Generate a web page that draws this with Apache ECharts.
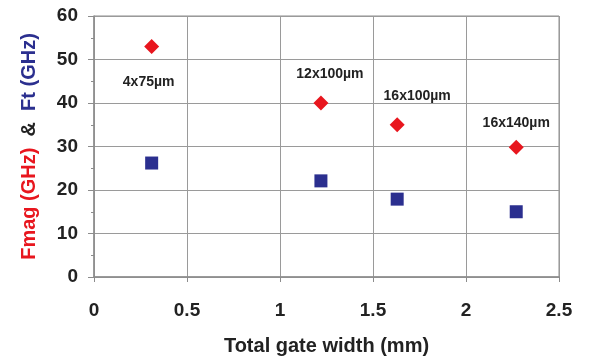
<!DOCTYPE html>
<html>
<head>
<meta charset="utf-8">
<script src="https://cdn.jsdelivr.net/npm/echarts@6/dist/echarts.min.js"></script>
<style>
  html, body { margin: 0; padding: 0; background: #fff; }
  #chart { width: 589px; height: 361px; }
</style>
</head>
<body>
<div id="chart"></div>
<script>
// Device geometry vs. frequency performance
const gateWidth = [0.31, 1.22, 1.63, 2.27];          // total gate width (mm)
const deviceNames = ['4x75µm', '12x100µm', '16x100µm', '16x140µm'];
const fmag = [53, 40, 35, 29.8];                      // Fmag (GHz)
const ft = [26.2, 22.1, 17.9, 15];                    // Ft (GHz)
const xTicks = [0, 0.5, 1, 1.5, 2, 2.5];
const yTicks = [0, 10, 20, 30, 40, 50, 60];

// label placement offsets for each device annotation
const labelOffsets = [[-3, 36], [9, -29], [20, -29], [0, -24]];

const chart = echarts.init(document.getElementById('chart'));
const bold = { fontFamily: 'Liberation Sans, Arial, sans-serif', fontWeight: 'bold' };

chart.setOption({
  animation: false,
  grid: {
    left: 94, right: 30, top: 16, bottom: 84,
    outerBoundsMode: 'none',
    containLabel: false,
    show: true, borderColor: '#8c8c8c', borderWidth: 1
  },
  xAxis: {
    type: 'value',
    min: xTicks[0], max: xTicks[xTicks.length - 1], interval: 0.5,
    name: 'Total gate width (mm)',
    nameLocation: 'middle', nameGap: 59,
    nameTextStyle: Object.assign({ fontSize: 20, color: '#222' }, bold),
    axisLine: { show: true, onZero: false, lineStyle: { color: '#8c8c8c', width: 1.5 } },
    axisTick: { show: true, inside: false, length: 5, lineStyle: { color: '#8c8c8c' } },
    axisLabel: Object.assign({ fontSize: 19, color: '#222', margin: 24,
      formatter: v => String(v) }, bold),
    splitLine: { show: true, lineStyle: { color: '#9a9a9a', width: 1 } }
  },
  yAxis: {
    type: 'value',
    min: yTicks[0], max: yTicks[yTicks.length - 1], interval: 10,
    name: '{r|Fmag (GHz)}{k|  &  }{b|Ft (GHz)}',
    nameLocation: 'middle', nameGap: 55, nameRotate: 90,
    nameTextStyle: {
      rich: {
        r: Object.assign({ fontSize: 20, color: '#e8161e' }, bold),
        k: Object.assign({ fontSize: 20, color: '#222' }, bold),
        b: Object.assign({ fontSize: 20, color: '#2b2f8f' }, bold)
      }
    },
    axisLine: { show: true, onZero: false, lineStyle: { color: '#8c8c8c', width: 1.5 } },
    axisTick: { show: true, inside: false, length: 6, lineStyle: { color: '#8c8c8c' } },
    minorTick: { show: true, splitNumber: 2, length: 3, lineStyle: { color: '#8c8c8c' } },
    axisLabel: Object.assign({ fontSize: 19, color: '#222', margin: 16 }, bold),
    splitLine: { show: true, lineStyle: { color: '#9a9a9a', width: 1 } }
  },
  series: [
    {
      name: 'Fmag',
      type: 'scatter',
      symbol: 'diamond',
      symbolSize: [15, 15],
      itemStyle: { color: '#e8161e', opacity: 1 },
      data: gateWidth.map((x, i) => ({
        value: [x, fmag[i]],
        label: {
          show: true,
          formatter: deviceNames[i],
          position: 'inside',
          offset: labelOffsets[i],
          fontSize: 14,
          fontWeight: 'bold',
          fontFamily: 'Liberation Sans, Arial, sans-serif',
          color: '#222'
        }
      })),
      z: 3
    },
    {
      name: 'Ft',
      type: 'scatter',
      symbol: 'rect',
      symbolSize: [13, 13],
      itemStyle: { color: '#2b2f8f', opacity: 1 },
      data: gateWidth.map((x, i) => [x, ft[i]]),
      z: 3
    }
  ]
});
</script>
</body>
</html>
